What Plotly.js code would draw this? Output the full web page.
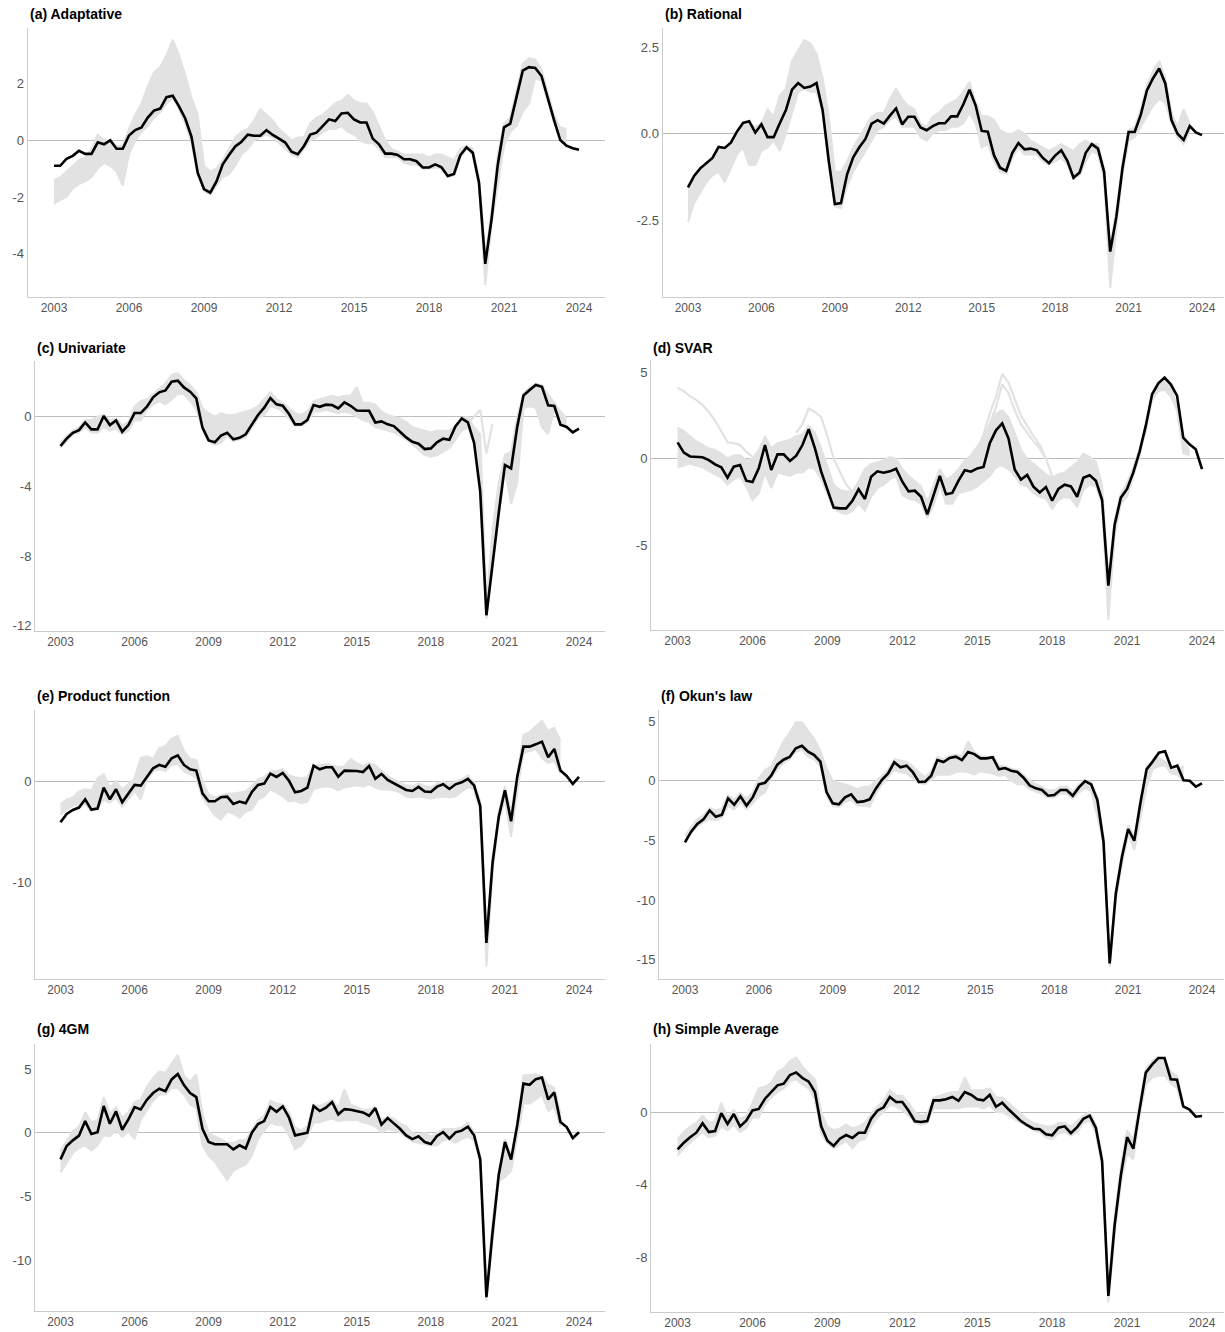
<!DOCTYPE html>
<html>
<head>
<meta charset="utf-8">
<script src="https://cdn.plot.ly/plotly-3.0.1.min.js"></script>
<style>html,body{margin:0;padding:0;background:#fff;}#chart{width:1225px;height:1332px;}</style>
</head>
<body>
<div id="chart"></div>
<script>
// ---------------- DATA (quarterly, 2003Q1 .. 2024Q1) ----------------
const firstYear = 2003;
const yearTicks = [2003, 2006, 2009, 2012, 2015, 2018, 2021, 2024];

// (a) Adaptative
const adaptMain = [-0.9,-0.9,-0.65,-0.55, -0.37,-0.48,-0.48,-0.07, -0.14,0.0,-0.3,-0.3, 0.17,0.36,0.45,0.8, 1.05,1.12,1.52,1.57, 1.2,0.77,0.12,-1.15, -1.72,-1.85,-1.45,-0.85, -0.52,-0.22,-0.05,0.2, 0.16,0.16,0.36,0.19, 0.06,-0.08,-0.4,-0.49, -0.2,0.2,0.27,0.5, 0.74,0.68,0.95,0.97, 0.74,0.63,0.63,0.06, -0.14,-0.47,-0.47,-0.52, -0.67,-0.67,-0.74,-0.96, -0.96,-0.85,-0.95,-1.26, -1.19,-0.53,-0.25,-0.44, -1.5,-4.36,-2.8,-0.87, 0.46,0.59,1.48,2.46, 2.58,2.55,2.27,1.48, 0.72,0.01,-0.19,-0.28, -0.33];
const adaptHi = [-1.4,-1.3,-1.1,-0.9, -0.7,-0.6,-0.3,0.2, 0.0,0.0,-0.2,-0.2, 0.4,0.9,1.3,1.9, 2.4,2.6,3.0,3.55, 3.0,2.3,1.5,0.9, -0.9,-1.1,-1.0,-0.7, -0.3,0.1,0.3,0.4, 0.7,1.1,0.9,0.7, 0.4,0.2,0.0,0.1, 0.1,0.6,0.8,0.9, 1.1,1.3,1.4,1.6, 1.4,1.3,1.3,1.0, 0.5,0.0,-0.3,-0.4, -0.5,-0.5,-0.5,-0.5, -0.6,-0.5,-0.5,-0.6, -0.7,-0.3,-0.2,-0.3, -1.3,-4.1,-2.5,-0.5, 0.6,0.8,1.8,2.7, 2.9,2.85,2.5,1.7, 0.9,0.45,0.4,null, null];
const adaptLo = [-2.25,-2.1,-2.0,-1.7, -1.55,-1.45,-1.3,-1.0, -0.8,-0.9,-1.1,-1.6, -0.5,0.0,0.3,0.5, 0.8,1.0,1.3,1.5, 1.1,0.6,-0.1,-1.2, -1.8,-1.9,-1.6,-1.3, -1.2,-0.9,-0.5,-0.3, 0.0,0.1,0.2,0.1, -0.1,-0.3,-0.5,-0.6, -0.3,0.0,0.1,0.3, 0.4,0.4,0.5,0.3, 0.2,0.0,-0.1,-0.1, -0.3,-0.6,-0.6,-0.6, -0.8,-0.85,-0.85,-1.0, -1.0,-0.95,-1.0,-1.3, -1.25,-0.6,-0.3,-0.5, -1.6,-5.1,-3.0,-1.6, -0.2,0.3,0.5,1.0, 1.3,2.2,2.1,1.4, 0.6,0.0,-0.25,null, null];

// (b) Rational
const ratMain = [-1.55,-1.22,-1.0,-0.86, -0.7,-0.38,-0.41,-0.26, 0.06,0.31,0.36,0.03, 0.27,-0.1,-0.1,0.3, 0.68,1.27,1.46,1.32, 1.36,1.46,0.68,-0.78, -2.03,-2.0,-1.17,-0.68, -0.39,-0.15,0.29,0.39, 0.29,0.52,0.73,0.27, 0.49,0.49,0.18,0.1, 0.22,0.3,0.3,0.5, 0.5,0.85,1.27,0.82, 0.08,0.06,-0.62,-0.98, -1.07,-0.55,-0.27,-0.45, -0.43,-0.48,-0.7,-0.85, -0.63,-0.48,-0.78,-1.27, -1.12,-0.55,-0.3,-0.43, -1.1,-3.4,-2.4,-1.0, 0.05,0.05,0.55,1.25, 1.6,1.88,1.45,0.4, 0.0,-0.18,0.22,0.04, -0.04];
const ratHi = [-1.5,-1.3,-1.0,-0.9, -0.7,-0.5,-0.4,-0.3, 0.0,0.2,0.3,0.2, 0.3,0.7,0.5,1.1, 1.3,2.1,2.4,2.7, 2.6,2.3,1.6,0.5, -1.1,-1.1,-0.8,-0.4, -0.1,0.2,0.5,0.6, 0.6,1.0,1.3,1.0, 0.8,0.7,0.3,0.2, 0.5,0.6,0.8,0.9, 1.0,1.2,1.5,0.9, 0.5,0.5,0.4,0.1, 0.0,0.0,0.1,0.0, -0.2,-0.3,-0.4,-0.5, -0.4,-0.3,-0.4,-0.5, -0.3,-0.2,-0.3,-0.3, -1.0,-3.3,-2.2,-0.8, 0.1,0.2,0.7,1.4, 1.8,2.1,1.6,0.6, 0.2,0.7,0.3,null, null];
const ratLo = [-2.55,-2.0,-1.7,-1.4, -1.2,-1.1,-1.4,-1.0, -0.6,-0.4,-0.9,-0.9, -0.5,-0.4,-0.2,-0.5, 0.0,0.6,1.2,1.3, 1.2,1.2,0.6,-0.9, -2.1,-2.15,-1.5,-1.1, -0.8,-0.5,-0.2,0.1, 0.2,0.4,0.5,0.2, 0.2,0.2,-0.1,-0.2, 0.0,0.1,0.1,0.2, 0.2,0.3,0.6,0.3, -0.4,-0.3,-0.8,-1.1, -1.15,-0.7,-0.4,-0.6, -0.6,-0.6,-0.8,-0.9, -0.8,-0.7,-0.9,-1.3, -1.2,-0.8,-0.5,-0.6, -1.3,-4.45,-2.7,-1.2, -0.2,-0.1,0.2,0.5, 0.8,1.0,0.9,0.3, -0.1,-0.3,0.1,null, null];

// (c) Univariate
const uniMain = [-1.68,-1.26,-0.92,-0.77, -0.33,-0.73,-0.73,0.04, -0.48,-0.21,-0.86,-0.48, 0.21,0.21,0.57,1.11, 1.4,1.51,2.01,2.07, 1.68,1.44,1.05,-0.63, -1.36,-1.47,-1.09,-0.92, -1.3,-1.21,-1.01,-0.44, 0.1,0.52,1.07,0.71, 0.63,0.17,-0.44,-0.44, -0.19,0.67,0.57,0.69, 0.67,0.48,0.82,0.63, 0.36,0.34,0.34,-0.33, -0.27,-0.44,-0.54,-0.86, -1.19,-1.44,-1.55,-1.86, -1.82,-1.47,-1.26,-1.32, -0.54,-0.1,-0.33,-1.49, -4.3,-11.4,-8.3,-5.5, -2.78,-2.97,-0.57,1.22, 1.53,1.82,1.72,0.65, 0.61,-0.46,-0.59,-0.9, -0.69];
const uniHi = [-1.5,-1.1,-0.8,-0.6, -0.2,-0.2,0.0,0.1, -0.2,-0.1,-0.5,-0.3, 0.6,0.9,1.0,1.3, 1.6,1.9,2.4,2.5, 2.1,1.8,1.4,0.5, 0.2,0.0,0.2,0.1, 0.1,0.2,0.3,0.4, 0.6,1.0,1.4,1.0, 0.8,0.5,0.2,0.1, 0.3,0.9,1.0,1.1, 1.2,1.1,1.2,1.2, 1.7,0.8,0.8,0.7, 0.3,0.1,0.0,-0.1, -0.3,-0.6,-0.7,-0.8, -0.9,-0.8,-0.8,-0.8, -0.5,-0.1,0.0,-0.6, -1.0,-10.8,-6.5,-3.8, -2.2,-2.0,0.0,1.3, 1.7,1.9,1.8,1.3, 0.8,0.3,-0.1,null, null];
const uniLo = [-1.8,-1.4,-1.0,-0.9, -0.6,-0.9,-0.9,-0.6, -0.8,-0.7,-1.0,-0.8, -0.2,-0.2,0.4,0.7, 0.9,0.7,1.0,1.3, 1.3,0.9,0.4,-0.7, -1.4,-1.6,-1.5,-1.1, -1.4,-1.3,-1.2,-0.6, -0.1,0.1,0.6,0.5, 0.3,-0.1,-0.5,-0.5, -0.3,0.3,0.3,0.4, 0.3,0.2,0.3,0.2, 0.0,-0.2,-0.3,-0.6, -0.7,-0.8,-0.9,-1.1, -1.3,-1.6,-1.9,-2.2, -2.3,-2.2,-2.0,-1.8, -1.3,-0.8,-0.6,-1.6, -4.5,-11.6,-8.6,-5.8, -3.0,-5.0,-3.8,0.5, 0.6,0.5,-0.6,-1.0, 0.4,-0.4,-0.6,null, null];
const uniOutStart = 2019.5;
const uniOut = [-0.4, 0.0, 0.4, -2.1, -0.4];

// (d) SVAR
const svarMain = [0.94,0.35,0.13,0.1, 0.08,-0.08,-0.33,-0.5, -1.1,-0.46,-0.37,-1.27, -1.35,-0.56,0.79,-0.65, 0.25,0.25,-0.13,0.17, 0.79,1.71,0.6,-0.75, -1.81,-2.83,-2.87,-2.87, -2.43,-1.77,-2.33,-1.04, -0.73,-0.81,-0.73,-0.58, -1.33,-1.89,-1.85,-2.2, -3.22,-2.14,-1.0,-2.06, -1.98,-1.27,-0.67,-0.75, -0.56,-0.48,0.89,1.64, 2.04,1.18,-0.62,-1.21, -0.94,-1.62,-1.95,-1.64, -2.43,-1.75,-1.5,-1.6, -2.2,-1.1,-0.96,-1.27, -2.39,-7.34,-3.83,-2.25, -1.75,-0.79,0.4,1.91, 3.72,4.36,4.69,4.3, 3.65,1.21,0.83,0.54, -0.6];
const svarHi = [1.8,1.6,1.3,1.0, 0.8,0.6,0.5,0.3, 0.0,0.2,0.2,-0.1, 0.0,0.5,1.3,0.6, 0.9,1.0,1.1,1.3, 1.4,1.9,1.5,0.6, -0.5,-1.5,-1.8,-1.9, -1.9,-1.3,-0.6,-0.3, -0.2,-0.1,0.1,0.0, -0.6,-1.0,-1.3,-1.6, -2.5,-1.5,-0.6,-1.2, -1.0,-0.6,-0.1,0.2, 0.7,1.2,2.0,2.6, 2.8,2.4,1.5,0.5, 0.0,-0.3,-0.6,-0.9, -1.1,-0.9,-0.8,-0.5, -0.2,0.3,0.1,-0.2, -1.5,-7.0,-3.5,-2.0, -1.4,-0.5,0.6,2.0, 3.8,4.3,4.6,4.2, 3.0,1.2,0.4,null, null];
const svarLo = [-0.5,-0.4,-0.3,-0.4, -0.5,-0.7,-0.9,-1.1, -1.5,-1.2,-1.0,-1.6, -2.4,-2.0,-0.8,-1.7, -0.8,-0.9,-1.0,-0.8, -0.8,-0.5,-0.6,-1.2, -2.0,-2.9,-3.1,-3.2, -3.0,-2.6,-3.0,-2.2, -1.7,-1.5,-1.2,-1.0, -2.1,-2.3,-2.4,-2.6, -3.4,-2.7,-1.5,-2.6, -2.6,-2.0,-1.9,-1.8, -1.6,-1.3,-1.0,-0.5, -0.4,-0.6,-1.0,-1.5, -1.6,-2.0,-2.2,-2.3, -2.9,-2.4,-2.2,-2.3, -2.8,-1.8,-1.5,-1.6, -2.6,-9.3,-4.5,-2.6, -2.2,-1.0,0.2,1.6, 3.4,3.9,4.0,3.6, 2.8,0.3,0.2,null, null];
const svarOut1Start = 2003.0;
const svarOut1 = [4.1,3.9,3.6,3.4,3.1,2.7,2.2,1.6,0.95,0.9,0.8,0.4,0.1];
const svarOut2Start = 2007.75;
const svarOut2 = [1.5,2.0,2.9,2.7,2.4,1.3,0.0,-0.8,-1.5,-1.9];
const svarOut3Start = 2014.75;
const svarOut3 = [-0.2,0.5,1.4,2.6,3.6,4.9,4.4,3.5,2.5,1.9,1.3,0.8,0.0,-1.0];
const svarOut4Start = 2015.25;
const svarOut4 = [0.8,2.0,3.0,4.3,3.8,2.8,2.0,1.5,1.0,0.6,0.0];

// (e) Product function
const prodMain = [-4.06,-3.23,-2.84,-2.6, -1.78,-2.8,-2.7,-0.63, -1.78,-0.79,-2.08,-1.25, -0.36,-0.43,0.46,1.29, 1.62,1.45,2.28,2.57, 1.62,1.19,1.06,-1.19, -1.98,-1.98,-1.58,-1.52, -2.24,-2.01,-2.18,-1.06, -0.36,-0.23,0.76,0.43, 0.83,0.07,-1.09,-0.96, -0.63,1.55,1.19,1.39, 1.39,0.46,1.06,1.06, 1.02,0.92,1.52,0.26, 0.73,0.13,-0.2,-0.56, -0.86,-0.96,-0.56,-1.02, -1.06,-0.53,-0.3,-0.76, -0.3,-0.1,0.23,-0.4, -2.44,-16.0,-8.05,-3.5, -0.89,-3.96,0.46,3.43, 3.43,3.66,3.93,2.38, 3.2,1.06,0.53,-0.26, 0.43];
const prodHi = [-2.3,-1.8,-1.6,-1.0, -0.8,-0.9,0.3,0.7, -0.6,0.0,-0.8,-0.3, 0.3,2.3,2.5,2.2, 3.3,3.5,4.2,4.5, 3.0,2.2,2.1,0.0, -1.3,-1.6,-1.4,-1.2, -1.2,-1.1,-1.0,-0.5, 0.2,0.4,1.0,1.0, 1.2,0.6,0.4,0.3, 0.4,1.6,1.6,1.7, 1.6,1.4,1.5,2.2, 1.8,1.5,1.8,1.6, 1.0,0.5,0.2,-0.1, -0.4,-0.5,-0.2,-0.5, -0.6,-0.2,0.0,-0.3, 0.0,0.2,0.6,-0.2, -2.0,-15.2,-7.5,-3.0, -0.5,-3.0,0.8,4.6, 4.9,5.5,6.0,5.0, 5.3,4.0,null,null, null];
const prodLo = [-3.3,-2.8,-2.4,-2.3, -2.3,-2.9,-2.8,-1.8, -2.1,-1.6,-2.5,-1.8, -1.0,-1.8,0.2,1.0, 1.2,1.0,1.6,1.7, 1.0,0.7,0.3,-1.6, -2.5,-3.4,-3.8,-3.0, -3.2,-3.6,-3.0,-2.8, -1.8,-1.5,-0.8,-1.1, -1.5,-2.0,-1.9,-2.2, -2.0,-0.8,-0.6,-0.5, -0.6,-0.9,-0.6,-0.5, -0.4,-0.5,-0.3,-0.6, -0.8,-0.8,-0.9,-1.1, -1.5,-1.6,-1.5,-1.6, -1.7,-1.6,-1.5,-1.6, -1.5,-1.0,-0.6,-0.8, -3.0,-18.3,-9.0,-4.0, -1.8,-5.5,-1.0,2.8, 3.0,3.2,2.3,1.8, 2.0,0.8,null,null, null];

// (f) Okun's law
const okunMain = [-5.17,-4.27,-3.63,-3.24, -2.49,-3.02,-2.85,-1.48, -2.01,-1.31,-2.09,-1.4, -0.31,-0.17,0.42,1.34, 1.76,1.98,2.71,2.93, 2.43,2.15,1.59,-0.95, -1.9,-1.98,-1.4,-1.15, -1.79,-1.73,-1.56,-0.67, 0.08,0.61,1.54,1.12, 1.26,0.73,-0.11,-0.08, 0.42,1.73,1.56,1.9, 2.01,1.73,2.4,2.23, 1.87,1.87,1.96,0.95, 1.06,0.84,0.73,0.25, -0.39,-0.64,-0.78,-1.26, -1.2,-0.78,-0.78,-1.26, -0.56,-0.03,-0.31,-1.62, -5.11,-15.3,-9.44,-6.37, -4.05,-5.03,-1.84,0.95, 1.62,2.35,2.46,1.09, 1.26,0.03,0.0,-0.5, -0.22];
const okunHi = [-4.6,-3.9,-3.2,-2.9, -2.3,-2.5,-2.3,-1.2, -1.6,-1.0,-1.5,-1.0, 0.2,0.9,1.2,2.2, 3.3,4.0,4.9,4.9, 4.2,3.5,2.5,1.0, 0.0,-0.2,-0.3,-0.5, -0.7,-0.5,-0.5,0.0, 0.4,0.9,1.8,1.7, 1.6,1.2,0.7,0.3, 0.8,2.0,1.8,2.1, 2.2,2.1,3.3,2.4, 2.1,2.0,2.0,1.3, 1.2,1.0,0.9,0.5, 0.0,-0.3,-0.5,-0.8, -0.8,-0.5,-0.5,-0.9, -0.3,0.0,-0.1,-1.3, -4.7,-14.9,-9.0,-6.0, -3.7,-4.7,-1.5,1.2, 1.6,1.9,1.6,1.0, 0.9,1.2,null,null, null];
const okunLo = [-5.0,-4.4,-3.8,-3.5, -3.2,-3.3,-3.1,-2.1, -2.4,-1.8,-2.4,-1.9, -1.3,-1.0,0.3,0.9, 1.5,1.8,2.4,2.6, 2.0,1.8,1.2,-1.3, -2.1,-2.2,-1.8,-1.6, -2.1,-2.1,-2.2,-1.1, -0.3,0.3,0.9,0.7, 0.6,0.2,-0.2,-0.3, 0.1,0.5,0.5,0.5, 0.7,0.8,0.7,0.5, 0.8,0.7,0.6,0.4, 0.5,0.0,-0.3,-0.3, -0.7,-0.9,-1.1,-1.4, -1.4,-1.1,-1.1,-1.5, -1.0,-0.6,-0.9,-3.0, -5.3,-15.6,-10.0,-7.0, -4.5,-5.8,-3.0,-0.5, 1.0,1.2,1.3,0.6, 0.5,0.0,null,null, null];

// (g) 4GM
const gmMain = [-2.09,-1.04,-0.6,-0.23, 0.91,-0.1,0.03,2.09, 0.7,1.67,0.23,1.04, 2.01,1.83,2.58,3.11, 3.45,3.26,4.18,4.6, 3.73,3.11,2.79,0.31, -0.73,-0.91,-0.91,-0.91, -1.31,-0.99,-1.23,0.0, 0.68,0.91,2.01,1.64, 2.06,1.2,-0.21,-0.1, 0.0,2.09,1.7,1.96, 2.4,1.44,1.85,1.8, 1.72,1.59,1.33,1.93, 0.63,1.15,0.73,0.31, -0.21,-0.5,-0.29,-0.73, -0.89,-0.26,0.05,-0.47, 0.03,0.16,0.47,-0.2, -2.1,-12.9,-7.8,-3.3, -0.73,-2.1,0.6,3.85, 3.76,4.2,4.33,2.61, 3.16,0.84,0.44,-0.42, 0.03];
const gmHi = [-1.4,-0.6,0.1,0.5, 1.6,0.8,1.0,2.8, 1.5,2.0,1.2,1.6, 2.4,2.6,3.6,4.3, 4.8,4.7,5.4,6.1, 4.5,4.0,4.6,1.5, 0.0,-0.3,-0.5,-0.8, -0.8,-0.6,-0.6,0.2, 1.0,1.3,2.5,2.3, 2.2,1.6,0.4,0.2, 0.5,2.2,2.1,2.3, 2.6,2.0,3.4,2.2, 2.0,1.8,1.8,2.0, 1.0,1.2,1.1,0.7, 0.5,0.0,-0.2,0.0, -0.3,0.0,0.3,0.3, 0.3,0.4,0.8,0.0, -1.8,-12.5,-7.0,-3.0, -0.5,-1.8,0.8,4.5, 4.5,4.6,4.4,3.8, 3.5,1.5,null,null, null];
const gmLo = [-3.1,-2.3,-1.6,-1.2, -1.0,-1.4,-1.0,-0.2, -0.3,0.2,-0.3,0.1, -0.5,1.0,1.8,2.5, 3.0,3.0,3.5,3.5, 3.0,2.2,1.9,-1.0, -1.8,-2.3,-3.0,-3.7, -3.0,-2.7,-2.5,-1.8, -0.5,0.2,0.8,0.6, 0.6,-0.2,-1.3,-1.0, -0.3,0.8,0.8,1.0, 1.1,0.9,1.0,1.0, 1.0,0.8,0.7,0.5, 0.0,0.3,0.2,0.0, -0.3,-0.7,-0.8,-0.9, -1.0,-1.0,-0.6,-0.5, -0.8,-0.5,-0.3,-0.6, -2.4,-13.2,-8.2,-3.8, -3.5,-3.0,-0.3,2.3, 2.3,2.6,3.0,1.7, 2.0,0.5,null,null, null];

// (h) Simple Average
const avgMain = [-2.06,-1.69,-1.39,-1.14, -0.62,-1.1,-1.05,-0.06, -0.66,-0.11,-0.79,-0.48, 0.09,0.17,0.73,1.1, 1.47,1.56,2.04,2.18, 1.87,1.67,1.1,-0.79, -1.58,-1.87,-1.47,-1.27, -1.43,-1.14,-1.14,-0.37, 0.07,0.26,0.83,0.55, 0.55,0.07,-0.51,-0.55, -0.5,0.64,0.64,0.7, 0.83,0.62,1.1,0.95, 0.7,0.64,0.94,0.29, 0.51,0.15,-0.18,-0.5, -0.73,-0.92,-0.95,-1.23, -1.28,-0.86,-0.79,-1.16, -0.83,-0.37,-0.2,-0.88, -2.7,-10.13,-6.24,-3.49, -1.39,-2.02,0.13,2.17, 2.61,2.97,2.97,1.8, 1.78,0.31,0.13,-0.26, -0.22];
const avgHi = [-1.5,-1.1,-0.8,-0.6, -0.2,-0.6,-0.5,0.5, -0.3,0.1,-0.4,-0.2, 0.5,1.3,1.4,1.6, 2.2,2.4,2.8,3.0, 2.5,2.1,1.8,0.0, -0.8,-1.0,-0.9,-0.7, -0.9,-0.8,-0.6,-0.1, 0.3,0.6,1.2,0.9, 0.9,0.5,0.0,-0.2, -0.1,0.8,0.9,1.0, 1.1,1.1,1.9,1.2, 1.2,1.2,1.3,0.8, 0.8,0.5,0.2,-0.1, -0.4,-0.6,-0.7,-0.8, -0.8,-0.6,-0.6,-0.8, -0.5,-0.2,0.0,-0.7, -2.4,-9.8,-5.8,-3.0, -1.0,-1.5,0.5,2.4, 2.8,3.0,2.9,2.2, 2.0,0.5,null,null, null];
const avgLo = [-2.4,-2.0,-1.7,-1.4, -1.1,-1.4,-1.3,-0.8, -1.0,-0.7,-1.1,-0.9, -0.3,-0.3,0.4,0.8, 1.1,1.3,1.7,1.8, 1.5,1.3,0.7,-1.2, -1.7,-2.0,-1.8,-1.6, -2.0,-1.6,-1.5,-0.8, -0.3,0.0,0.4,0.3, 0.1,-0.2,-0.6,-0.7, -0.6,0.2,0.2,0.2, 0.2,0.2,0.3,0.3, 0.3,0.2,0.4,0.0, 0.0,-0.2,-0.4,-0.6, -0.8,-1.0,-1.1,-1.4, -1.5,-1.2,-1.1,-1.3, -1.1,-0.6,-0.5,-1.2, -3.0,-10.5,-6.8,-3.9, -2.3,-2.6,-0.2,1.5, 1.9,2.0,2.0,1.6, 1.3,0.2,null,null, null];

// ---------------- LAYOUT / STYLE ----------------
const W = 1225, H = 1332;
const FONT = 'Liberation Sans, Arial, sans-serif';
const GREY = '#e2e2e2';

// pixel geometry of each panel: plot box (L,R,T,B), x-pixel of 2003 & 2024 ticks, y-pixel of zero and px per unit
const panels = [
  {title:'(a) Adaptative', main:adaptMain, hi:adaptHi, lo:adaptLo, extra:[], yt:[-4,-2,0,2], ytt:null,
   g:{L:27.5,R:605,T:28,B:297,x03:54,x24:579,y0:140.3,pu:28.33,ty:14}},
  {title:'(b) Rational', main:ratMain, hi:ratHi, lo:ratLo, extra:[], yt:[-2.5,0,2.5], ytt:['-2.5','0.0','2.5'],
   g:{L:662.5,R:1224,T:28,B:297,x03:688,x24:1202,y0:133.7,pu:34.66,ty:14}},
  {title:'(c) Univariate', main:uniMain, hi:uniHi, lo:uniLo, extra:[[uniOutStart,uniOut]], yt:[-12,-8,-4,0], ytt:null,
   g:{L:35,R:605,T:361,B:631,x03:60.5,x24:579,y0:416.7,pu:17.42,ty:347.5}},
  {title:'(d) SVAR', main:svarMain, hi:svarHi, lo:svarLo,
   extra:[[svarOut1Start,svarOut1],[svarOut2Start,svarOut2],[svarOut3Start,svarOut3],[svarOut4Start,svarOut4]], yt:[-5,0,5], ytt:null,
   g:{L:651,R:1224,T:360,B:630,x03:677.6,x24:1202,y0:458.7,pu:17.3,ty:347.5}},
  {title:'(e) Product function', main:prodMain, hi:prodHi, lo:prodLo, extra:[], yt:[-10,0], ytt:null,
   g:{L:35,R:605,T:710,B:979,x03:60.5,x24:579,y0:781.3,pu:10.1,ty:696}},
  {title:"(f) Okun's law", main:okunMain, hi:okunHi, lo:okunLo, extra:[], yt:[-15,-10,-5,0,5], ytt:null,
   g:{L:659,R:1224,T:710,B:979,x03:685,x24:1202,y0:780.7,pu:11.94,ty:696}},
  {title:'(g) 4GM', main:gmMain, hi:gmHi, lo:gmLo, extra:[], yt:[-10,-5,0,5], ytt:null,
   g:{L:35,R:605,T:1044,B:1311,x03:60.5,x24:579,y0:1132.7,pu:12.75,ty:1029}},
  {title:'(h) Simple Average', main:avgMain, hi:avgHi, lo:avgLo, extra:[], yt:[-8,-4,0], ytt:null,
   g:{L:651,R:1224,T:1044,B:1312,x03:677.6,x24:1202,y0:1112,pu:18.16,ty:1029}}
];

const traces = [];
const layout = {
  width: W, height: H, margin:{l:0,r:0,t:0,b:0},
  paper_bgcolor:'#ffffff', plot_bgcolor:'#ffffff', showlegend:false,
  annotations: [], hovermode:false
};

panels.forEach((p, i) => {
  const k = i + 1;
  const xa = 'x' + (k === 1 ? '' : k), ya = 'y' + (k === 1 ? '' : k);
  const xName = 'xaxis' + (k === 1 ? '' : k), yName = 'yaxis' + (k === 1 ? '' : k);
  const qx = p.main.map((_, j) => firstYear + j * 0.25);
  const g = p.g;

  // grey band of earlier estimates
  const bx = [], bh = [], bl = [];
  p.hi.forEach((v, j) => { if (v !== null && p.lo[j] !== null) { bx.push(qx[j]); bh.push(v); bl.push(p.lo[j]); } });
  traces.push({x:bx, y:bl, xaxis:xa, yaxis:ya, mode:'lines', line:{color:GREY, width:2}, hoverinfo:'skip'});
  traces.push({x:bx, y:bh, xaxis:xa, yaxis:ya, mode:'lines', line:{color:GREY, width:2}, fill:'tonexty', fillcolor:GREY, hoverinfo:'skip'});
  p.extra.forEach(([start, vals]) => {
    traces.push({x:vals.map((_, j) => start + j * 0.25), y:vals, xaxis:xa, yaxis:ya, mode:'lines',
      line:{color:GREY, width:2.2}, hoverinfo:'skip'});
  });
  // final estimate
  traces.push({x:qx, y:p.main, xaxis:xa, yaxis:ya, mode:'lines', line:{color:'#000000', width:2.6}, hoverinfo:'skip'});

  const ppy = (g.x24 - g.x03) / 21;
  layout[xName] = {
    domain:[g.L / W, g.R / W], anchor:ya,
    range:[2003 - (g.x03 - g.L) / ppy, 2024 + (g.R - g.x24) / ppy],
    tickvals:yearTicks, ticktext:yearTicks.map(String),
    showgrid:false, zeroline:false, showline:true, linecolor:'#cccccc', linewidth:1,
    ticks:'', tickfont:{family:FONT, size:12, color:'#555555'}, fixedrange:true
  };
  layout[yName] = {
    domain:[1 - g.B / H, 1 - g.T / H], anchor:xa,
    range:[(g.y0 - g.B) / g.pu, (g.y0 - g.T) / g.pu],
    tickvals:p.yt, ticktext:p.ytt || p.yt.map(String),
    showgrid:false, zeroline:true, zerolinecolor:'#bdbdbd', zerolinewidth:1,
    showline:true, linecolor:'#cccccc', linewidth:1,
    ticks:'', tickfont:{family:FONT, size:13, color:'#555555'}, fixedrange:true
  };
  layout.annotations.push({
    xref:'paper', yref:'paper', x:g.L / W, y:1 - g.ty / H, xanchor:'left', yanchor:'middle',
    text:'<b>' + p.title + '</b>', showarrow:false, font:{family:FONT, size:14, color:'#000000'}
  });

  [p.main, p.hi, p.lo].forEach(arr => {
    if (arr.length !== 85) layout.annotations.push({xref:'paper', yref:'paper', x:0.5, y:0.5, showarrow:false,
      text:'LEN ' + p.title + ' ' + arr.length, font:{size:20, color:'red'}});
  });
});

Plotly.newPlot('chart', traces, layout, {staticPlot:true, displayModeBar:false});
</script>
</body>
</html>
